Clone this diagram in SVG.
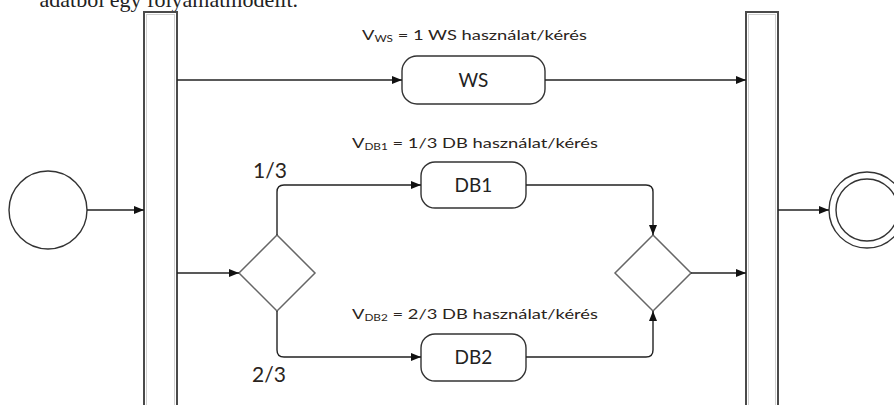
<svg xmlns="http://www.w3.org/2000/svg" width="894" height="405" viewBox="0 0 894 405">
<defs>
<marker id="arr" markerUnits="userSpaceOnUse" markerWidth="11" markerHeight="9" refX="10" refY="4" orient="auto">
<path d="M0,0 L10,4 L0,8 z" fill="#111"/>
</marker>
<style>
.bar{fill:#fff;stroke:#4a4a4a;stroke-width:2}
.barin{fill:none;stroke:#d0d0d0;stroke-width:1}
.box{fill:#fff;stroke:#333;stroke-width:1.4}
.dia{fill:#fff;stroke:#666;stroke-width:1.5}
.ev{fill:#fff;stroke:#333;stroke-width:1.4}
.con{fill:none;stroke:#222;stroke-width:1.4;marker-end:url(#arr)}
.lbl{font-family:Lato,"Liberation Sans",sans-serif;font-size:14px;fill:#2a2420}
.sub{font-size:9px}
.nm{font-family:Lato,"Liberation Sans",sans-serif;font-size:19px;fill:#222;text-anchor:middle}
.fr{font-family:Lato,"Liberation Sans",sans-serif;font-size:21px;fill:#2a2420}
.top{font-family:"Liberation Serif",serif;font-size:22px;fill:#222}
</style>
</defs>
<text class="top" x="298" y="7" text-anchor="end">adatból egy folyamatmodellt.</text>
<g id="fork">
<rect class="bar" x="144" y="12" width="33" height="400"/>
<rect class="barin" x="146.5" y="14.5" width="28" height="400"/>
</g>
<g id="join">
<rect class="bar" x="746" y="12" width="32" height="400"/>
<rect class="barin" x="748.5" y="14.5" width="27" height="400"/>
</g>
<g id="start"><circle class="ev" cx="48" cy="210" r="39"/></g>
<g id="end"><circle class="ev" cx="867" cy="210" r="38"/><circle class="ev" cx="867" cy="210" r="31"/></g>
<g id="ws"><rect class="box" x="402" y="56" width="143" height="48" rx="15"/><text class="nm" x="473.5" y="87">WS</text></g>
<g id="db1"><rect class="box" x="421" y="162" width="105" height="46" rx="14"/><text class="nm" x="473.5" y="192">DB1</text></g>
<g id="db2"><rect class="box" x="421" y="334" width="105" height="47" rx="14"/><text class="nm" x="473.5" y="364">DB2</text></g>
<g id="decision"><polygon class="dia" points="277,235 315,273 277,311 239,273"/></g>
<g id="merge"><polygon class="dia" points="653,235 691,273 653,311 615,273"/></g>
<g id="labels">
<text class="lbl" x="362" y="40" textLength="225" lengthAdjust="spacingAndGlyphs">V<tspan class="sub" dy="2">WS</tspan><tspan dy="-2"> = 1 WS használat/kérés</tspan></text>
<text class="lbl" x="352" y="148" textLength="246" lengthAdjust="spacingAndGlyphs">V<tspan class="sub" dy="2">DB1</tspan><tspan dy="-2"> = 1/3 DB használat/kérés</tspan></text>
<text class="lbl" x="352" y="319" textLength="246" lengthAdjust="spacingAndGlyphs">V<tspan class="sub" dy="2">DB2</tspan><tspan dy="-2"> = 2/3 DB használat/kérés</tspan></text>
<text class="fr" x="253" y="178">1/3</text>
<text class="fr" x="252" y="382">2/3</text>
</g>
<g id="connectors">
<path class="con" d="M87,210 H144"/>
<path class="con" d="M177,80 H402"/>
<path class="con" d="M545,80 H746"/>
<path class="con" d="M177,273 H239"/>
<path class="con" d="M277,235 V192 Q277,185 284,185 H421"/>
<path class="con" d="M277,311 V350 Q277,357 284,357 H421"/>
<path class="con" d="M526,185 H646 Q653,185 653,192 V235"/>
<path class="con" d="M526,357 H646 Q653,357 653,350 V311"/>
<path class="con" d="M691,273 H746"/>
<path class="con" d="M778,210 H829"/>
</g>
</svg>
